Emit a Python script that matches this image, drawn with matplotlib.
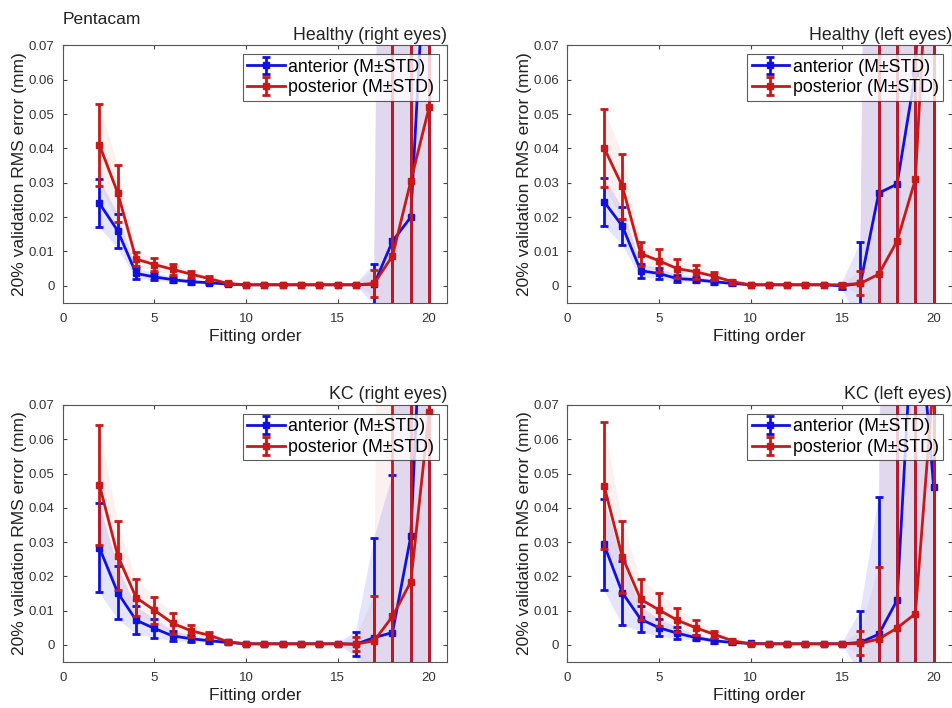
import matplotlib.pyplot as plt
import numpy as np

plt.rcParams['font.family'] = ['Liberation Sans', 'DejaVu Sans']

# Fitting orders
orders = list(range(2, 21))

# Healthy (right eyes)
hr_ant_mean = [0.024, 0.016, 0.0036, 0.0026, 0.0018, 0.0012, 0.0009, 0.0005, 0.0003, 0.0003,
               0.0003, 0.0003, 0.0003, 0.0003, 0.0003, 0.0005, 0.013, 0.020, 0.12]
hr_ant_std = [0.007, 0.005, 0.0015, 0.001, 0.0008, 0.0006, 0.0005, 0.0003, 0.0002, 0.0002,
              0.0002, 0.0002, 0.0002, 0.0002, 0.0002, 0.006, 0.5, 0.5, 0.5]
hr_post_mean = [0.041, 0.027, 0.0078, 0.0062, 0.0048, 0.0034, 0.0021, 0.0007, 0.0003, 0.0003,
                0.0003, 0.0003, 0.0003, 0.0003, 0.0003, 0.0007, 0.0087, 0.0305, 0.052]
hr_post_std = [0.012, 0.0083, 0.002, 0.0018, 0.0015, 0.001, 0.0008, 0.0004, 0.0002, 0.0002,
               0.0002, 0.0002, 0.0002, 0.0002, 0.0002, 0.004, 0.5, 0.5, 0.5]

# Healthy (left eyes)
hl_ant_mean = [0.0245, 0.0174, 0.0044, 0.0036, 0.0021, 0.0018, 0.0012, 0.0007, 0.0003, 0.0003,
               0.0003, 0.0003, 0.0003, 0.0, 0.0007, 0.027, 0.0296, 0.062, 0.2]
hl_ant_std = [0.007, 0.0055, 0.002, 0.0015, 0.001, 0.0008, 0.0006, 0.0004, 0.0002, 0.0002,
              0.0002, 0.0002, 0.0002, 0.0009, 0.012, 0.5, 0.5, 0.5, 0.5]
hl_post_mean = [0.0402, 0.029, 0.0094, 0.0073, 0.005, 0.0041, 0.0028, 0.0012, 0.0003, 0.0003,
                0.0003, 0.0003, 0.0003, 0.0003, 0.0007, 0.0034, 0.013, 0.031, 0.13]
hl_post_std = [0.0113, 0.0095, 0.0035, 0.0033, 0.0027, 0.002, 0.0012, 0.0006, 0.0002, 0.0002,
               0.0002, 0.0002, 0.0002, 0.0002, 0.0035, 0.5, 0.5, 0.5, 0.5]

# KC (right eyes)
kr_ant_mean = [0.0283, 0.0152, 0.0072, 0.0048, 0.0026, 0.0018, 0.0012, 0.0007, 0.0003, 0.0003,
               0.0003, 0.0003, 0.0003, 0.0003, 0.0002, 0.0021, 0.0036, 0.0317, 0.15]
kr_ant_std = [0.013, 0.0077, 0.004, 0.0028, 0.0015, 0.001, 0.0006, 0.0004, 0.0002, 0.0002,
              0.0002, 0.0002, 0.0002, 0.0002, 0.0036, 0.029, 0.046, 0.5, 0.5]
kr_post_mean = [0.0466, 0.026, 0.0138, 0.0101, 0.0063, 0.0041, 0.0028, 0.0009, 0.0003, 0.0003,
                0.0003, 0.0003, 0.0003, 0.0003, 0.0002, 0.0012, 0.0083, 0.0184, 0.068]
kr_post_std = [0.0175, 0.010, 0.0053, 0.004, 0.003, 0.0018, 0.001, 0.0005, 0.0002, 0.0002,
               0.0002, 0.0002, 0.0002, 0.0002, 0.002, 0.013, 0.5, 0.5, 0.5]

# KC (left eyes)
kl_ant_mean = [0.0293, 0.0152, 0.0075, 0.005, 0.0034, 0.0021, 0.0012, 0.0007, 0.0004, 0.0003,
               0.0003, 0.0003, 0.0003, 0.0003, 0.0007, 0.0031, 0.013, 0.11, 0.046]
kl_ant_std = [0.0133, 0.0093, 0.0037, 0.0025, 0.0018, 0.0008, 0.0006, 0.0004, 0.0002, 0.0002,
              0.0002, 0.0002, 0.0002, 0.0002, 0.0092, 0.040, 0.5, 0.5, 0.5]
kl_post_mean = [0.0465, 0.0257, 0.0133, 0.0102, 0.0072, 0.005, 0.0031, 0.0012, 0.0003, 0.0003,
                0.0003, 0.0003, 0.0003, 0.0003, 0.0004, 0.0017, 0.0049, 0.0091, 0.078]
kl_post_std = [0.0185, 0.0105, 0.006, 0.0048, 0.0035, 0.0022, 0.001, 0.0006, 0.0002, 0.0002,
               0.0002, 0.0002, 0.0002, 0.0002, 0.0035, 0.021, 0.5, 0.5, 0.5]

panels = [
    ("Healthy (right eyes)", hr_ant_mean, hr_ant_std, hr_post_mean, hr_post_std),
    ("Healthy (left eyes)", hl_ant_mean, hl_ant_std, hl_post_mean, hl_post_std),
    ("KC (right eyes)", kr_ant_mean, kr_ant_std, kr_post_mean, kr_post_std),
    ("KC (left eyes)", kl_ant_mean, kl_ant_std, kl_post_mean, kl_post_std),
]

BLUE = "#1010e0"
RED = "#c81818"

fig = plt.figure(figsize=(9.52, 7.08), dpi=100)

# axes rectangles in figure fraction
positions = [
    [0.066, 0.572, 0.404, 0.364],
    [0.596, 0.572, 0.404, 0.364],
    [0.066, 0.065, 0.404, 0.363],
    [0.596, 0.065, 0.404, 0.363],
]

x = np.array(orders)
for pos, (title, am, asd, pm, psd) in zip(positions, panels):
    ax = fig.add_axes(pos)
    am, asd, pm, psd = map(np.array, (am, asd, pm, psd))

    # shaded M±STD bands
    ax.fill_between(x, am - asd, am + asd, color=BLUE, alpha=0.11, linewidth=0, zorder=1)
    ax.fill_between(x, pm - psd, pm + psd, color=RED, alpha=0.06, linewidth=0, zorder=1)

    ax.errorbar(x, am, yerr=asd, fmt='-s', color=BLUE, markersize=4.5, linewidth=2,
                elinewidth=2, capsize=3, capthick=2, label="anterior (M±STD)", zorder=3)
    ax.errorbar(x, pm, yerr=psd, fmt='-s', color=RED, markersize=4.5, linewidth=2,
                elinewidth=2, capsize=3, capthick=2, label="posterior (M±STD)", zorder=4)

    ax.set_xlim(0, 21)
    ax.set_ylim(-0.005, 0.07)
    ax.set_xticks([0, 5, 10, 15, 20])
    ax.set_yticks([0, 0.01, 0.02, 0.03, 0.04, 0.05, 0.06, 0.07])
    ax.set_yticklabels(["0", "0.01", "0.02", "0.03", "0.04", "0.05", "0.06", "0.07"])
    ax.tick_params(direction='in', top=True, right=True, labelsize=9.5,
                   colors='#444444', labelcolor='#333333', length=3)
    ax.tick_params(axis='x', pad=7)
    ax.tick_params(axis='y', pad=6)
    for sp in ax.spines.values():
        sp.set_color('#555555')
        sp.set_linewidth(0.8)

    ax.set_xlabel("Fitting order", fontsize=12.5, color='#222222', labelpad=3)
    ax.set_ylabel("20% validation RMS error (mm)", fontsize=12.5, color='#222222', labelpad=1)
    ax.set_title(title, loc='right', fontsize=12.8, color='#222222', pad=4)

    leg = ax.legend(loc='upper right', fontsize=12.8, frameon=True, fancybox=False,
                    borderaxespad=0.5, handlelength=2.1, borderpad=0.25, labelspacing=0.2,
                    handletextpad=0.2)
    leg.get_frame().set_edgecolor('#333333')
    leg.get_frame().set_linewidth(0.8)

fig.text(0.066, 0.972, "Pentacam", fontsize=12.5, color='#222222', ha='left', va='center')

fig.savefig("out.png", dpi=100)
